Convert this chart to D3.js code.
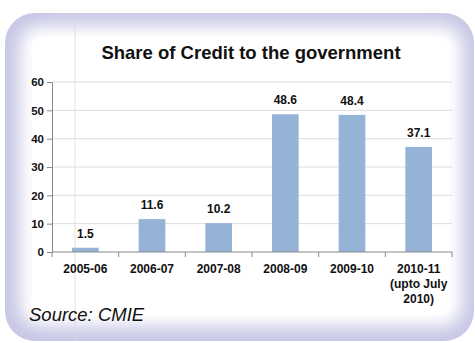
<!DOCTYPE html>
<html>
<head>
<meta charset="utf-8">
<script src="https://cdn.jsdelivr.net/npm/d3@7"></script>
<style>
  body { margin: 0; background: #fff; }
  text { font-family: Arial, "Liberation Sans", sans-serif; }
</style>
</head>
<body>
<svg width="475" height="343"></svg>
<script>
// values
const years = ['2005-06', '2006-07', '2007-08', '2008-09', '2009-10', '2010-11'];
const yearNotes = [[], [], [], [], [], ['(upto July', '2010)']];
const share = [1.5, 11.6, 10.2, 48.6, 48.4, 37.1];
const yTicks = [0, 10, 20, 30, 40, 50, 60];

const svg = d3.select('svg');

// panel with soft lavender inner glow
const defs = svg.append('defs');
defs.append('filter')
  .attr('id', 'soft')
  .attr('x', '-10%').attr('y', '-10%')
  .attr('width', '120%').attr('height', '120%')
  .append('feGaussianBlur')
  .attr('stdDeviation', 8);

svg.append('rect')
  .attr('x', 5).attr('y', 13)
  .attr('width', 469).attr('height', 328)
  .attr('rx', 30)
  .style('fill', '#c8c8e6');

svg.append('rect')
  .attr('x', 20).attr('y', 26)
  .attr('width', 442).attr('height', 300)
  .attr('rx', 20)
  .style('fill', '#fff')
  .attr('filter', 'url(#soft)');

svg.append('rect')
  .attr('x', 32).attr('y', 36)
  .attr('width', 418).attr('height', 280)
  .attr('rx', 10)
  .style('fill', '#fff');

// faint stray vertical line seen in the picture
svg.append('line')
  .attr('x1', 75).attr('x2', 75)
  .attr('y1', 13).attr('y2', 341)
  .style('stroke', '#dadada')
  .style('stroke-width', 0.8);

const margin = { left: 52, right: 452, top: 82, bottom: 252 };

const x = d3.scaleBand()
  .domain(years)
  .range([margin.left, margin.right])
  .paddingInner(0.6)
  .paddingOuter(0.3);

const y = d3.scaleLinear()
  .domain([0, 60])
  .range([margin.bottom, margin.top]);

const g = svg.append('g');

// gridlines
g.selectAll('.grid')
  .data(yTicks.filter(d => d > 0))
  .enter().append('line')
  .attr('class', 'grid')
  .attr('x1', margin.left).attr('x2', margin.right)
  .attr('y1', d => y(d)).attr('y2', d => y(d))
  .style('stroke', '#dcdcdc')
  .style('stroke-width', 1);

// y axis
const yAxis = g.append('g')
  .attr('transform', `translate(${margin.left},0)`)
  .call(d3.axisLeft(y).tickValues(yTicks).tickSize(5).tickPadding(3));
yAxis.select('.domain').style('stroke', '#888');
yAxis.selectAll('.tick line').style('stroke', '#888');
yAxis.selectAll('.tick text')
  .style('font-size', '11.5px')
  .style('font-weight', 'bold')
  .style('fill', '#111');

// bars
g.selectAll('.bar')
  .data(share)
  .enter().append('rect')
  .attr('class', 'bar')
  .attr('x', (d, i) => x(years[i]))
  .attr('width', x.bandwidth())
  .attr('y', d => y(d))
  .attr('height', d => y(0) - y(d))
  .style('fill', '#95b3d7');

// value labels
g.selectAll('.val')
  .data(share)
  .enter().append('text')
  .attr('class', 'val')
  .attr('x', (d, i) => x(years[i]) + x.bandwidth() / 2)
  .attr('y', d => y(d) - 10)
  .attr('text-anchor', 'middle')
  .style('font-size', '12px')
  .style('font-weight', 'bold')
  .style('fill', '#111')
  .text(d => d.toFixed(1));

// x axis with ticks at category boundaries
const step = (margin.right - margin.left) / years.length;
g.append('line')
  .attr('x1', margin.left).attr('x2', margin.right)
  .attr('y1', y(0)).attr('y2', y(0))
  .style('stroke', '#888');
g.selectAll('.xtick')
  .data(d3.range(years.length + 1))
  .enter().append('line')
  .attr('x1', i => margin.left + i * step)
  .attr('x2', i => margin.left + i * step)
  .attr('y1', y(0)).attr('y2', y(0) + 5)
  .style('stroke', '#888');

const xl = g.selectAll('.xlab')
  .data(years)
  .enter().append('text')
  .attr('class', 'xlab')
  .attr('x', d => x(d) + x.bandwidth() / 2)
  .attr('y', y(0) + 21)
  .attr('text-anchor', 'middle')
  .style('font-size', '12px')
  .style('font-weight', 'bold')
  .style('fill', '#111');
xl.append('tspan').text(d => d);
xl.each(function (d, i) {
  yearNotes[i].forEach(line => {
    d3.select(this).append('tspan')
      .attr('x', x(d) + x.bandwidth() / 2)
      .attr('dy', 15)
      .text(line);
  });
});

// title
svg.append('text')
  .attr('x', 251).attr('y', 59)
  .attr('text-anchor', 'middle')
  .style('font-size', '18.5px')
  .style('font-weight', 'bold')
  .style('fill', '#111')
  .text('Share of Credit to the government');

// source
svg.append('text')
  .attr('x', 29).attr('y', 321)
  .style('font-size', '18.5px')
  .style('font-style', 'italic')
  .style('fill', '#111')
  .text('Source:  CMIE');
</script>
</body>
</html>
